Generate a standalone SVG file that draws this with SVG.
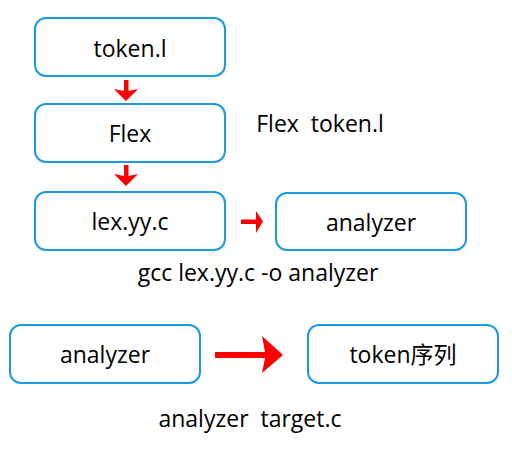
<svg xmlns="http://www.w3.org/2000/svg" width="512" height="450" viewBox="0 0 512 450">
<style>
.box{fill:#fff;stroke:#1a9be0;stroke-width:2}
.t{font-family:"Open Sans","Noto Sans CJK SC",sans-serif;font-size:23px;fill:#000;text-anchor:middle;white-space:pre}
.a{fill:#f00}
</style>
<rect width="512" height="450" fill="#fff"/>
<g id="n-token-l"><rect class="box" x="35" y="18" width="190" height="58" rx="11"/><text class="t" x="130" y="57">token.l</text></g>
<g id="n-flex"><rect class="box" x="35" y="104" width="190" height="58" rx="11"/><text class="t" x="130" y="142">Flex</text></g>
<g id="n-lexyyc"><rect class="box" x="35" y="192" width="190" height="58" rx="11"/><text class="t" x="130" y="230">lex.yy.c</text></g>
<g id="n-analyzer1"><rect class="box" x="276" y="193" width="190" height="57" rx="11"/><text class="t" x="371" y="231">analyzer</text></g>
<g id="n-analyzer2"><rect class="box" x="10" y="325" width="190" height="58" rx="11"/><text class="t" x="105" y="363">analyzer</text></g>
<g id="n-token-seq"><rect class="box" x="308" y="325" width="190" height="58" rx="11"/><text class="t" x="403" y="363">token序列</text></g>
<g id="labels">
<text class="t" x="320" y="132" xml:space="preserve">Flex  token.l</text>
<text class="t" x="258" y="281">gcc lex.yy.c -o analyzer</text>
<text class="t" x="250" y="427" xml:space="preserve">analyzer  target.c</text>
</g>
<g id="connectors">
<path class="a" d="M124,80 H128.5 V91 L138,89 L126,101 L114,89 L124,91 Z"/>
<path class="a" d="M124,165 H128.5 V176 L138,174 L126,186 L114,174 L124,176 Z"/>
<path class="a" d="M241,219.5 H256 V211 L263,221.5 L256,233 V224 H241 Z"/>
<path class="a" d="M215,352 H265 L262,336 L283,355 L262,373 L265,358 H215 Z"/>
</g>
</svg>
